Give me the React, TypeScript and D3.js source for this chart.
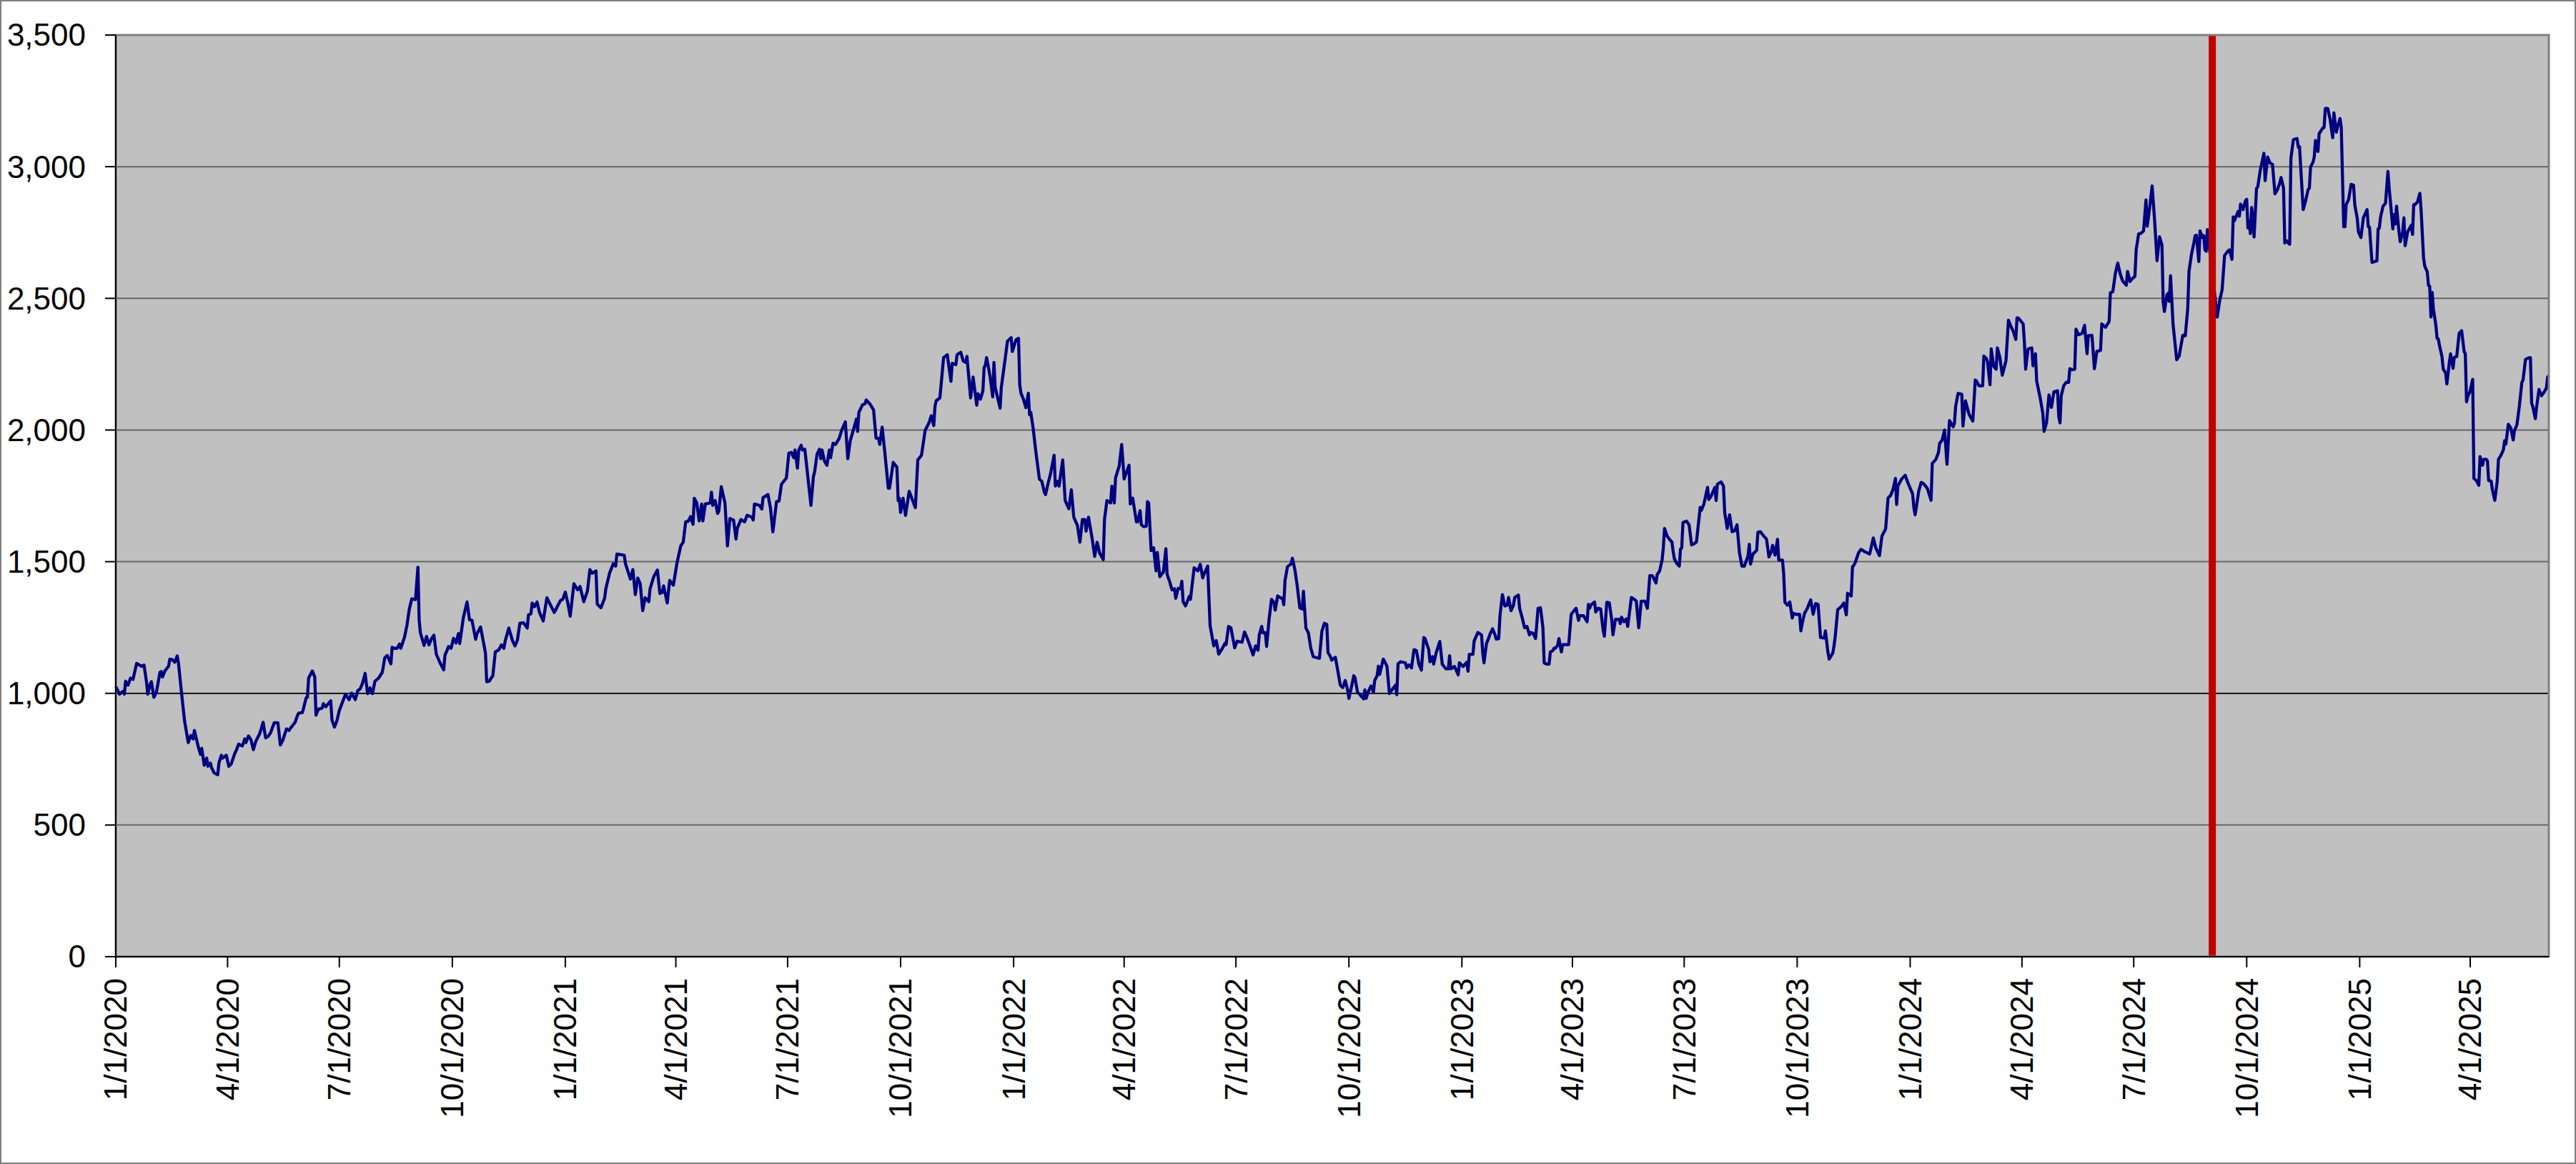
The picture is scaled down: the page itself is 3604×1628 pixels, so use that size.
import React, { useEffect, useRef } from "react";
import * as d3 from "d3";

// index level; x = days since startDate
const startDate = "1/1/2020";
const markerDate = "9/3/2024";
const baselineValue = 1000;

const yTicks = [0, 500, 1000, 1500, 2000, 2500, 3000, 3500];
const xTickLabels = [
  "1/1/2020", "4/1/2020", "7/1/2020", "10/1/2020",
  "1/1/2021", "4/1/2021", "7/1/2021", "10/1/2021",
  "1/1/2022", "4/1/2022", "7/1/2022", "10/1/2022",
  "1/1/2023", "4/1/2023", "7/1/2023", "10/1/2023",
  "1/1/2024", "4/1/2024", "7/1/2024", "10/1/2024",
  "1/1/2025", "4/1/2025",
];

const dayOffsets = [
  0,3,6,7,8,10,12,14,17,21,23,25,
  26,28,29,31,33,36,37,38,40,43,44,46,
  48,50,51,54,56,59,61,63,64,67,69,70,
  72,74,75,77,78,80,83,84,86,87,90,92,
  94,97,98,100,103,105,106,108,110,112,114,117,
  118,120,121,122,124,126,129,132,134,136,139,141,
  143,146,148,149,152,155,156,157,160,162,163,165,
  168,169,171,175,176,178,180,182,185,187,190,192,
  195,197,199,201,203,205,207,209,211,214,217,219,
  221,224,225,226,229,231,232,235,237,239,241,244,
  246,247,248,251,253,255,257,259,261,264,267,268,
  271,273,275,277,279,280,283,286,288,290,293,294,
  297,301,302,304,307,309,312,314,316,317,320,323,
  325,327,329,332,335,336,338,339,341,343,345,348,
  351,357,362,364,366,368,370,373,376,378,381,384,
  386,388,391,392,395,398,399,402,405,407,408,414,
  415,419,421,423,425,427,429,431,434,435,438,441,
  443,445,446,449,450,451,454,457,460,462,464,466,
  468,470,471,473,475,477,478,480,484,485,486,488,
  490,491,493,496,498,500,503,505,506,509,512,514,
  518,519,520,524,526,527,531,533,535,538,540,542,
  546,548,550,552,553,555,556,558,559,561,562,566,
  568,569,571,573,574,575,577,579,581,582,584,586,
  589,591,594,596,598,601,603,604,605,608,610,611,
  614,617,619,621,622,624,626,629,630,633,636,637,
  638,639,641,643,646,651,
  653,656,659,660,662,664,666,667,668,671,674,677,
  680,681,684,685,688,690,692,693,696,698,701,702,
  704,706,707,708,709,711,712,714,715,716,718,720,
  721,724,726,729,730,733,735,736,737,739,741,743,
  744,745,747,749,752,754,756,757,759,761,764,765,
  767,768,771,773,
  776,778,780,783,785,787,789,790,792,795,797,799,
  801,804,805,807,810,811,813,814,817,819,821,822,
  825,826,828,831,832,834,835,837,839,840,841,843,
  845,847,848,850,853,855,856,858,860,862,863,865,
  867,868,869,871,874,875,878,881,883,885,886,889,
  891,894,896,898,901,903,904,906,908,910,911,913,
  917,919,921,924,926,928,930,931,933,934,936,937,
  939,941,943,944,946,949,950,951,952,954,957,958,
  960,962,964,966,967,969,971,973,975,978,980,982,
  984,986,987,989,990,993,995,997,999,1001,1003,1004,
  1006,1008,1009,1011,1013,1016,1017,1018,1020,1022,1024,1025,
  1027,1028,1029,1032,1035,1037,1039,1042,1043,1044,
  1046,1050,1051,1053,1055,1057,1059,1061,1063,1065,1066,1069,
  1070,1072,1073,1075,1078,1080,1083,1085,1086,1087,1090,1093,
  1094,1097,1100,1101,1102,1105,1106,1109,1112,1113,1114,1116,
  1118,1119,1121,1123,1124,1126,1127,1129,1131,1133,1134,1136,
  1138,1139,1142,1143,1145,1147,1149,1151,1152,1154,1156,1158,
  1160,1162,1163,1165,1167,1168,1170,1171,1172,1174,1175,1177,
  1178,1181,1183,1184,1185,1188,1189,1191,1192,1195,1198,1199,
  1200,1201,1204,1205,1207,1209,1211,1212,1214,1216,1218,1219,
  1221,1224,1225,1226,1228,1230,1231,1234,1237,1238,1240,1242,
  1245,1247,1249,1251,1252,1254,1255,1257,1259,1260,1261,1263,
  1265,1267,1268,1269,1271,1273,1274,1275,1276,1279,1281,1283,
  1285,1287,1290,1291,1293,1296,1297,1299,1302,1303,1304,1307,
  1309,1310,1311,1312,1314,1316,1318,1320,1322,1324,1326,1329,
  1330,1331,1333,1336,1337,1339,1342,1344,1346,1348,1349,1351,
  1353,1354,1357,1358,1359,1361,1363,1365,1366,1368,1371,1372,
  1373,1375,1377,1380,1382,1384,1386,1388,1391,1392,1394,1395,
  1398,1399,1400,1402,
  1405,1407,1409,1410,1413,1414,1416,1419,1421,1424,1428,1431,
  1433,1436,1438,1441,1443,1445,1447,1449,1450,1451,1454,1457,
  1459,1463,1464,1465,1466,1468,1470,1472,1475,1478,1479,1482,
  1484,1485,1487,1489,1491,1493,1496,1497,1498,1500,1503,1504,
  1506,1509,1512,1514,1515,1517,1520,
  1521,1523,1524,1526,1527,1529,1531,1532,1534,1536,1539,1541,
  1543,1545,1547,1548,1549,1553,1554,1555,1557,1560,1561,1563,
  1564,1567,1569,1570,1572,1574,1576,1578,1581,1582,1583,1584,
  1586,1588,1590,1591,1593,1595,1596,1598,1601,1603,1605,1606,
  1609,1611,1613,1616,1617,1620,1623,1624,1626,1628,1630,1632,
  1634,1637,1638,1640,1641,1644,1645,1647,1649,1651,1653,1654,
  1656,1658,1660,1662,1664,1666,1667,1668,1670,1671,1672,1673,
  1675,1678,1680,1683,1685,1687,1688,1690,1692,1693,1694,1696,
  1697,1699,1700,1701,1702,1703,
  1711,1713,1715,1717,1720,1721,1723,1724,1725,1728,1729,1730,
  1732,1734,1735,1736,1737,1738,1739,1740,1741,1743,1744,1746,
  1749,1750,1752,1754,1756,1758,1760,1762,1763,1765,1766,1767,
  1770,1771,1773,1776,1777,1778,1781,1783,1785,1786,1787,1789,
  1790,1791,1793,1794,1797,1798,1799,1801,1803,1805,1806,1808,
  1809,1811,1812,1814,1815,1816,1818,1820,1822,1823,1825,1826,
  1828,1830,1833,1834,1835,1837,1841,1842,1843,1844,1846,1848,
  1850,1851,1852,1854,1855,1856,1857,1859,1860,1862,1863,1864,
  1866,1869,1870,1871,1872,1874,1876,1877,1879,1880,1882,1883,
  1884,1885,1886,1887,1888,1889,1890,1891,1892,1894,1895,1897,
  1898,1900,1901,1903,1904,1906,1908,1910,1912,1913,1914,1915,
  1917,1919,1920,1922,1924,1925,1927,1928,1930,1931,1932,1934,
  1935,1937,1939,1940,1942,1944,1945,1946,1948,1950,1952,1953,
  1955,1957,1959,1960,1962,1964,1966,1967,1968,1970,1971,1973,
  1975,1977,1979,1980,1981,
];

const indexValues = [
  1026,997,1008,997,1046,1031,1058,1053,1114,1103,1107,1044,
  997,1035,1044,985,1003,1080,1083,1062,1085,1103,1130,1128,
  1118,1142,1116,981,895,813,840,827,859,800,768,791,
  727,754,723,735,718,698,691,736,765,754,765,723,
  732,773,782,807,800,827,813,838,825,786,818,845,
  859,890,859,831,836,850,888,888,804,822,865,859,
  872,890,917,925,927,983,985,1058,1085,1062,917,940,
  944,961,949,972,899,872,895,935,972,996,976,1001,
  976,1010,1017,1040,1076,999,1021,999,1046,1058,1080,1135,
  1144,1112,1175,1171,1171,1187,1171,1212,1257,1320,1359,1356,
  1479,1279,1230,1182,1216,1184,1207,1221,1148,1116,1089,1144,
  1178,1171,1209,1191,1227,1189,1288,1347,1279,1278,1205,1225,
  1252,1153,1044,1046,1067,1157,1166,1184,1171,1198,1248,1200,
  1180,1202,1266,1268,1248,1298,1302,1343,1329,1347,1307,1275,
  1363,1307,1352,1358,1384,1343,1293,1416,1393,1406,1348,1388,
  1470,1456,1465,1339,1325,1361,1397,1456,1492,1483,1529,1524,
  1492,1434,1470,1375,1438,1416,1314,1363,1348,1397,1443,1468,
  1379,1384,1408,1343,1388,1429,1411,1497,1560,1574,1651,1653,
  1671,1642,1741,1723,1655,1719,1655,1719,1723,1764,1714,1732,
  1683,1692,1785,1723,1560,1664,1658,1586,1626,1660,1651,1676,
  1669,1658,1719,1714,1700,1743,1755,1705,1613,1728,1730,1794,
  1818,1912,1915,1895,1924,1855,1922,1942,1924,1927,1886,1714,
  1823,1841,1909,1927,1891,1924,1882,1866,1924,1895,1950,1945,
  1968,1999,2031,1891,1959,2008,2042,1995,2067,2096,2099,2114,
  2099,2076,1969,1968,1945,2011,1922,1779,1779,1877,1859,1732,
  1741,1687,1741,1676,1767,1705,
  1886,1904,1999,2008,2026,2054,2017,2090,2111,2122,2275,2286,
  2185,2253,2248,2286,2295,2262,2257,2280,2122,2201,2094,2138,
  2117,2149,2237,2246,2275,2226,2198,2126,2257,2162,2123,2083,
  2162,2266,2337,2351,2298,2343,2348,2171,2140,2117,2085,2140,
  2058,2067,2004,1922,1814,1805,1764,1755,1796,1832,1904,1787,
  1805,1787,1886,1732,
  1701,1773,1669,1637,1574,1660,1660,1616,1669,1587,1520,1574,
  1533,1508,1660,1732,1723,1787,1723,1818,1864,1945,1814,1827,
  1866,1719,1741,1651,1651,1694,1640,1633,1635,1728,1723,1542,
  1553,1465,1535,1443,1461,1549,1452,1425,1393,1397,1361,1399,
  1397,1426,1348,1332,1368,1357,1477,1465,1490,1438,1452,1483,
  1257,1180,1200,1149,1171,1189,1185,1254,1248,1198,1173,1198,
  1194,1233,1212,1173,1146,1180,1164,1221,1254,1230,1230,1178,
  1280,1357,1345,1316,1370,1361,1361,1336,1429,1481,1492,1513,
  1470,1406,1325,1320,1388,1248,1230,1171,1139,1135,1133,1235,
  1266,1262,1155,1139,1126,1137,1085,1031,1022,1049,1013,981,
  1022,1067,1058,1004,995,979,1013,981,1008,1028,1004,1049,
  1067,1103,1072,1130,1103,999,1013,1031,995,1112,
  1120,1116,1097,1108,1097,1166,1162,1111,1088,1212,1208,1166,
  1120,1139,1111,1153,1197,1111,1093,1093,1143,1093,1102,1070,
  1116,1102,1118,1084,1148,1148,1199,1231,1222,1153,1116,1189,
  1212,1226,1245,1222,1206,1208,1295,1375,1332,1335,1364,1314,
  1335,1364,1373,1323,1289,1249,1254,1222,1231,1228,1208,1323,
  1325,1249,1116,1111,1111,1157,1162,1171,1171,1182,1208,1157,
  1185,1185,1185,1245,1300,1318,1323,1277,1295,1295,1272,1338,
  1323,1335,1347,1309,1323,1320,1240,1217,1346,1344,1279,1222,
  1281,1281,1265,1289,1272,1283,1254,1364,1355,1350,1249,1350,
  1350,1323,1447,1447,1439,1419,1451,1465,1506,1552,1626,1598,
  1585,1575,1539,1511,1493,1483,1548,1552,1649,1654,1640,1564,
  1568,1575,1706,1695,1718,1782,1736,1750,1782,1732,1794,1803,
  1787,1686,1658,1626,1678,1614,1617,1640,1534,1483,1483,1522,
  1566,1491,1529,1543,1612,1614,1596,1586,1518,1539,1562,1525,
  1585,1506,1506,1456,1346,1335,1347,1286,1304,1300,1300,1237,
  1263,1304,1320,1355,1300,1341,1338,1212,1210,1237,1157,1130,
  1153,1180,1217,1318,
  1330,1343,1298,1380,1370,1479,1493,1534,1547,1538,1529,1590,
  1552,1523,1597,1624,1742,1751,1774,1816,1717,1787,1814,1828,
  1801,1757,1706,1678,1706,1769,1801,1796,1778,1733,1873,1889,
  1914,1950,1961,2000,1870,2036,2012,2024,2090,2139,2136,2015,
  2111,2059,2034,2190,2186,2168,2168,
  2281,2272,2258,2172,2308,2242,2231,2312,2276,2208,2263,2417,
  2394,2374,2344,2426,2426,2403,2332,2231,2308,2312,2244,2290,
  2186,2118,2063,1995,2027,2133,2086,2145,2149,2050,2027,2131,
  2168,2181,2181,2233,2229,2231,2383,2362,2367,2398,2290,2358,
  2360,2233,2299,2302,2403,2390,2412,2521,2525,2593,2634,2593,
  2566,2550,2602,2564,2571,2584,2684,2745,2747,2756,2874,2774,
  2845,2927,2797,2643,2734,2702,2485,2450,2513,2519,2489,2586,
  2403,2267,2281,2360,2358,2462,2602,2666,2711,2738,2740,2640,
  2756,2731,2738,2684,2679,2761,
  2429,2492,2533,2663,2681,2684,2648,2809,2795,2830,2812,2858,
  2837,2871,2876,2767,2793,2746,2845,2804,2733,2918,2923,2985,
  3051,2947,3037,3014,3009,2897,2913,2939,2959,2918,2710,2720,
  2705,3032,3103,3107,3074,3076,2837,2871,2913,2918,2999,3017,
  3037,3100,3058,3126,3147,3149,3221,3221,3178,3110,3204,3131,
  3152,3183,3149,2772,2772,2856,2876,2933,2930,2856,2804,2752,
  2731,2806,2837,2772,2770,2637,2642,2764,2767,2809,2850,2861,
  2982,2918,2868,2764,2819,2783,2850,2752,2715,2752,2806,2700,
  2752,2778,2743,2856,2856,2866,2899,2835,2653,2622,2601,2549,
  2546,2429,2523,2460,2429,2398,2348,2346,2320,2279,2232,2216,
  2175,2258,2289,2234,2276,2279,2367,2377,2299,2289,2107,2128,
  2149,2192,1816,1808,1790,1899,1866,1889,1889,1883,1808,1806,
  1774,1733,1806,1889,1904,1925,1959,1946,2022,2008,1962,1998,
  2019,2091,2180,2190,2268,2273,2275,2102,2088,2043,2086,2154,
  2130,2143,2159,2201,2206,
];

const parseDate = d3.timeParse("%-m/%-d/%Y");

const IndexChart = () => {
  const svgRef = useRef(null);

  useEffect(() => {
    document.body.style.margin = "0";

    const svg = d3.select(svgRef.current);
    svg.selectAll("*").remove();

    const width = 3604;
    const height = 1628;
    const plot = { left: 162, right: 3566, top: 49, bottom: 1338 };
    const font = "'Liberation Sans', Arial, sans-serif";

    const start = parseDate(startDate);
    const data = dayOffsets.map((d, i) => ({
      date: d3.timeDay.offset(start, d),
      value: indexValues[i],
    }));

    const x = d3
      .scaleTime()
      .domain([start, data[data.length - 1].date])
      .range([plot.left, plot.right]);
    const y = d3.scaleLinear().domain([0, 3500]).range([plot.bottom, plot.top]);

    // outer frame
    svg
      .append("rect")
      .attr("x", 1)
      .attr("y", 1)
      .attr("width", width - 2)
      .attr("height", height - 2)
      .attr("fill", "#fff")
      .attr("stroke", "#7f7f7f")
      .attr("stroke-width", 2);

    // plot background
    svg
      .append("rect")
      .attr("x", plot.left)
      .attr("y", plot.top)
      .attr("width", plot.right - plot.left)
      .attr("height", plot.bottom - plot.top)
      .attr("fill", "#c0c0c0");

    // horizontal grid
    svg
      .append("g")
      .selectAll("line")
      .data(yTicks.filter((t) => t > 0 && t < 3500))
      .join("line")
      .attr("x1", plot.left)
      .attr("x2", plot.right)
      .attr("y1", (d) => y(d))
      .attr("y2", (d) => y(d))
      .attr("stroke", "#666")
      .attr("stroke-width", 2);

    // baseline at 1000
    svg
      .append("line")
      .attr("x1", plot.left)
      .attr("x2", plot.right)
      .attr("y1", y(baselineValue))
      .attr("y2", y(baselineValue))
      .attr("stroke", "#000")
      .attr("stroke-width", 1.5);

    // series
    const line = d3
      .line()
      .x((d) => x(d.date))
      .y((d) => y(d.value));

    svg
      .append("path")
      .datum(data)
      .attr("fill", "none")
      .attr("stroke", "#000080")
      .attr("stroke-width", 4.3)
      .attr("stroke-linejoin", "round")
      .attr("d", line);

    // red marker
    const mx = x(parseDate(markerDate));
    svg
      .append("line")
      .attr("x1", mx)
      .attr("x2", mx)
      .attr("y1", plot.top)
      .attr("y2", plot.bottom)
      .attr("stroke", "#c00000")
      .attr("stroke-width", 10);

    // plot border
    svg
      .append("rect")
      .attr("x", plot.left)
      .attr("y", plot.top)
      .attr("width", plot.right - plot.left)
      .attr("height", plot.bottom - plot.top)
      .attr("fill", "none")
      .attr("stroke", "#808080")
      .attr("stroke-width", 3);

    // y axis
    const yAxis = svg.append("g");
    yAxis
      .append("line")
      .attr("x1", plot.left)
      .attr("x2", plot.left)
      .attr("y1", plot.top)
      .attr("y2", plot.bottom)
      .attr("stroke", "#000")
      .attr("stroke-width", 2);
    const yt = yAxis.selectAll("g").data(yTicks).join("g");
    yt.append("line")
      .attr("x1", plot.left - 15)
      .attr("x2", plot.left)
      .attr("y1", (d) => y(d))
      .attr("y2", (d) => y(d))
      .attr("stroke", "#000")
      .attr("stroke-width", 2);
    yt.append("text")
      .attr("x", 120)
      .attr("y", (d) => y(d))
      .attr("dy", "0.35em")
      .attr("text-anchor", "end")
      .attr("font-family", font)
      .attr("font-size", 44)
      .attr("fill", "#000")
      .text((d) => d3.format(",")(d));

    // x axis
    const xAxis = svg.append("g");
    xAxis
      .append("line")
      .attr("x1", plot.left)
      .attr("x2", plot.right)
      .attr("y1", plot.bottom)
      .attr("y2", plot.bottom)
      .attr("stroke", "#000")
      .attr("stroke-width", 2);
    const xt = xAxis
      .selectAll("g")
      .data(xTickLabels)
      .join("g")
      .attr("transform", (d) => `translate(${x(parseDate(d))},0)`);
    xt.append("line")
      .attr("y1", plot.bottom)
      .attr("y2", plot.bottom + 15)
      .attr("stroke", "#000")
      .attr("stroke-width", 2);
    xt.append("text")
      .attr("transform", `translate(0,${plot.bottom + 30}) rotate(-90)`)
      .attr("dy", "0.35em")
      .attr("text-anchor", "end")
      .attr("font-family", font)
      .attr("font-size", 44)
      .attr("fill", "#000")
      .text((d) => d);
  }, []);

  return (
    <svg
      ref={svgRef}
      width={3604}
      height={1628}
      style={{ display: "block" }}
    />
  );
};

export default function App() {
  return <IndexChart />;
}
